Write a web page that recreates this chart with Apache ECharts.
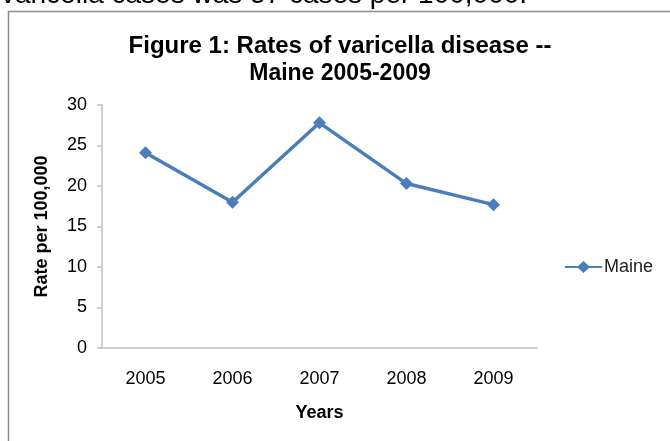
<!DOCTYPE html>
<html>
<head>
<meta charset="utf-8">
<script src="https://cdn.jsdelivr.net/npm/echarts@6/dist/echarts.min.js"></script>
<style>
html,body{margin:0;padding:0;background:#fff;}
#chart{width:670px;height:441px;}
</style>
</head>
<body>
<div id="chart"></div>
<script>
const years = ['2005', '2006', '2007', '2008', '2009'];
const maineRates = [24.1, 18.0, 27.8, 20.3, 17.7];
const seriesName = 'Maine';
const titleLine1 = 'Figure 1: Rates of varicella disease --';
const titleLine2 = 'Maine 2005-2009';
const yAxisName = 'Rate per 100,000';
const xAxisName = 'Years';
const topText = 'varicella cases was 57 cases per 100,000.';

const FONT = '"Liberation Sans", Arial, sans-serif';
const chart = echarts.init(document.getElementById('chart'), null, {renderer: 'canvas'});
chart.setOption({
  backgroundColor: '#fff',
  animation: false,
  graphic: [
    {type: 'rect', left: 6, top: 9, shape: {width: 700, height: 460}, style: {fill: 'none', stroke: '#8c8c8c', lineWidth: 1.5}},
    {type: 'text', left: 1, top: -19, style: {text: topText, font: '28px "Liberation Sans", Arial', fill: '#000'}}
  ],
  title: {
    text: '{a|' + titleLine1 + '}\n{b|' + titleLine2 + '}',
    left: 335, textAlign: 'center', top: 28,
    textStyle: {
      rich: {
        a: {fontFamily: FONT, fontWeight: 'bold', fontSize: 24, color: '#000', lineHeight: 27},
        b: {fontFamily: FONT, fontWeight: 'bold', fontSize: 23, color: '#000', lineHeight: 27}
      }
    }
  },
  legend: {
    data: [{name: seriesName, icon: 'path://M0,5L13,5L18.5,0L24,5L37,5L37,7L24,7L18.5,12L13,7L0,7Z'}],
    left: 565, top: 258, padding: 0, orient: 'vertical',
    itemWidth: 37, itemHeight: 12, itemGap: 2,
    textStyle: {fontFamily: FONT, fontSize: 18, color: '#222', padding: [0,0,0,-3]}
  },
  grid: {left: 102, right: 133, top: 105, bottom: 93, containLabel: false},
  xAxis: {
    type: 'category', data: years, boundaryGap: true,
    name: xAxisName, nameLocation: 'middle', nameGap: 56,
    nameTextStyle: {fontFamily: FONT, fontWeight: 'bold', fontSize: 18, color: '#000'},
    axisLine: {lineStyle: {color: '#bfbfbf', width: 1.5}},
    axisTick: {show: false},
    axisLabel: {fontFamily: FONT, fontSize: 18, color: '#000', margin: 22}
  },
  yAxis: {
    type: 'value', min: 0, max: 30, interval: 5,
    name: yAxisName, nameLocation: 'middle', nameGap: 51, nameRotate: 90,
    nameTextStyle: {fontFamily: FONT, fontWeight: 'bold', fontSize: 18, color: '#000'},
    axisLine: {show: true, lineStyle: {color: '#bfbfbf', width: 1.5}},
    axisTick: {show: true, length: 5, inside: false, lineStyle: {color: '#bfbfbf', width: 1.5}},
    splitLine: {show: false},
    axisLabel: {fontFamily: FONT, fontSize: 18, color: '#000', margin: 15}
  },
  series: [{
    name: seriesName, type: 'line', data: maineRates,
    symbol: 'diamond', symbolSize: 13,
    lineStyle: {color: '#4a7ebb', width: 3.5},
    itemStyle: {color: '#4a7ebb'}
  }]
});
</script>
</body>
</html>
